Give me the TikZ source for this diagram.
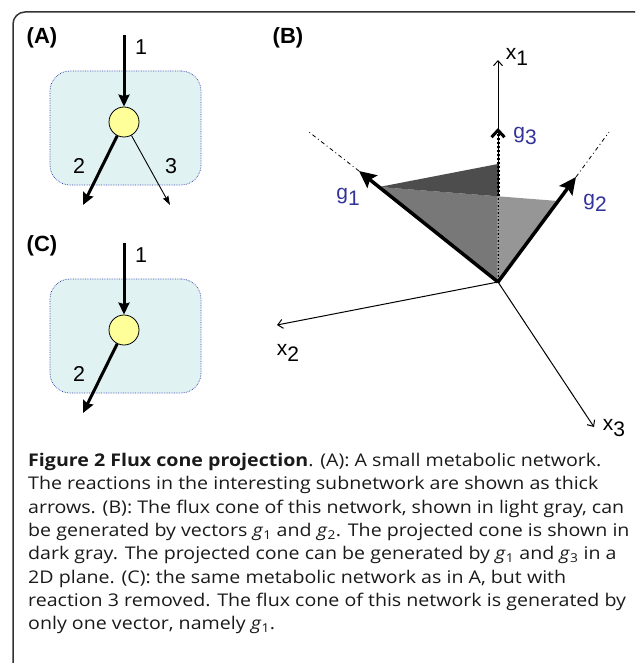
\documentclass[tikz,border=0pt]{standalone}
\usepackage{fontspec}
\setmainfont{Open Sans}[FakeStretch=1.12]
\newfontfamily\labfont{Liberation Sans}
\usetikzlibrary{arrows.meta}
\definecolor{ink}{HTML}{1A1A1A}
\definecolor{frame}{HTML}{333333}
\definecolor{poolfill}{HTML}{E1F2F2}
\definecolor{pooledge}{HTML}{3344AA}
\definecolor{metfill}{HTML}{FFFF99}
\definecolor{genblue}{HTML}{333399}
\definecolor{faceL}{HTML}{787878}
\definecolor{faceR}{HTML}{969696}
\definecolor{faceT}{HTML}{4D4D4D}
\definecolor{hidden}{HTML}{9A9A9A}
\newcommand{\lowsub}[2]{#1\raisebox{-0.32em}{#2}}

\begin{document}
\begin{tikzpicture}[
  x=1pt, y=-1pt,
  lab/.style    = {font=\labfont\fontsize{21.5}{24}\selectfont, inner sep=0pt},
  panel/.style  = {inner sep=0pt, font=\labfont\bfseries\fontsize{22}{24}\selectfont},
  axlab/.style  = {inner sep=0pt, font=\labfont\fontsize{21}{24}\selectfont},
  genlab/.style = {axlab, text=genblue},
  pool/.style   = {draw=pooledge, densely dotted, line width=0.7pt, fill=poolfill,
                   rounded corners=20pt, minimum width=151pt, minimum height=114pt},
  met/.style    = {circle, draw=black, line width=0.8pt, fill=metfill,
                   minimum size=30pt, inner sep=0pt},
  flux/.style   = {-{Stealth[length=12pt,width=11pt,inset=1.5pt]}, line width=3pt},
  side/.style   = {-{Stealth[length=9pt,width=6pt,inset=1pt]}, line width=0.9pt},
  axis/.style   = {-{Straight Barb[length=5pt,width=9pt]}, line width=1pt},
  gen/.style    = {-{Stealth[length=17pt,width=16pt,inset=3pt]}, line width=3.5pt},
  ext/.style    = {dash pattern=on 4pt off 3pt on 1pt off 3pt, line width=0.8pt},
  captext/.style = {inner sep=0pt, align=left, text=ink,
                   font=\fontsize{17.5}{23.3}\selectfont},
]
\useasboundingbox (0,0) rectangle (635,663);
\clip (0,0) rectangle (635,663);

% ---------- frame ----------
\draw[frame, line width=1.5pt, rounded corners=12pt]
  (13,663) -- (13,12) -- (647,12) -- (647,663);

% ---------- panel A ----------
\node[panel] (labA) at (42,38) {(A)};
\node[pool] (poolA) at (125.5,128) {};
\node[met] (metA) at (124,122) {};
\coordinate (inA) at (124,35);
\coordinate (outA2) at (83,205);
\coordinate (outA3) at (170,205);
\draw[flux] (inA) -- (metA);
\draw[flux] (metA) -- (outA2);
\draw[side] (metA) -- (outA3);
\node[lab] (rA1) at (141,47) {1};
\node[lab] (rA2) at (79,166) {2};
\node[lab] (rA3) at (171,166) {3};

% ---------- panel C ----------
\node[panel] (labC) at (42,246) {(C)};
\node[pool] (poolC) at (125.5,336) {};
\node[met] (metC) at (124,330) {};
\coordinate (inC) at (124,243);
\coordinate (outC2) at (83,413);
\draw[flux] (inC) -- (metC);
\draw[flux] (metC) -- (outC2);
\node[lab] (rC1) at (141,255) {1};
\node[lab] (rC2) at (79,374) {2};

% ---------- panel B ----------
\node[panel] (labB) at (288,38) {(B)};
\coordinate (O)  at (498,282);
\coordinate (x1) at (498,60);
\coordinate (x2) at (277,325);
\coordinate (x3) at (594,427);
\coordinate (g1) at (359,171);
\coordinate (g2) at (576,177);
\coordinate (g3) at (498,128);
\coordinate (g1far) at (309,132);
\coordinate (g2far) at (609,132);
\coordinate (p1) at (379,187);
\coordinate (p2) at (558,201);
\coordinate (pm) at (498,196.3);
\coordinate (pt) at (498,164);

% flux cone and its projection
\fill[faceL] (O) -- (p1) -- (pm) -- cycle;
\fill[faceR] (O) -- (pm) -- (p2) -- cycle;
\fill[faceT] (p1) -- (pt) -- (pm) -- cycle;

% axes
\draw[axis] (O) -- (x1);
\draw[axis] (O) -- (x2);
\draw[axis] (O) -- (x3);
\node[axlab] (lx1) at (517,57) {\lowsub{x}{1}};
\node[axlab] (lx2) at (288,353) {\lowsub{x}{2}};
\node[axlab] (lx3) at (614,428) {\lowsub{x}{3}};

% generating vectors
\draw[hidden, line width=2.5pt, dash pattern=on 2pt off 1.5pt] (O) -- (pm);
\draw[line width=3pt, dash pattern=on 2.5pt off 1.5pt,
      -{Straight Barb[length=7pt,width=13pt]}] (pm) -- (g3);
\draw[ext] (g1) -- (g1far);
\draw[ext] (g2) -- (g2far);
\draw[gen] (O) -- (g1);
\draw[gen] (O) -- (g2);
\node[genlab] (lg1) at (348,197) {\lowsub{g}{1}};
\node[genlab] (lg2) at (595,203) {\lowsub{g}{2}};
\node[genlab] (lg3) at (525,136) {\lowsub{g}{3}};

% ---------- caption ----------
\node[captext, anchor=north west] (caption) at (28,453)
  {\textbf{Figure 2 Flux cone projection}. (A): A small metabolic network.\\
   The reactions in the interesting subnetwork are shown as thick\\
   arrows. (B): The flux cone of this network, shown in light gray, can\\
   be generated by vectors \textit{g}\textsubscript{1} and \textit{g}\textsubscript{2}. The projected cone is shown in\\
   dark gray. The projected cone can be generated by \textit{g}\textsubscript{1} and \textit{g}\textsubscript{3} in a\\
   2D plane. (C): the same metabolic network as in A, but with\\
   reaction 3 removed. The flux cone of this network is generated by\\
   only one vector, namely \textit{g}\textsubscript{1}.};

\end{tikzpicture}
\end{document}
